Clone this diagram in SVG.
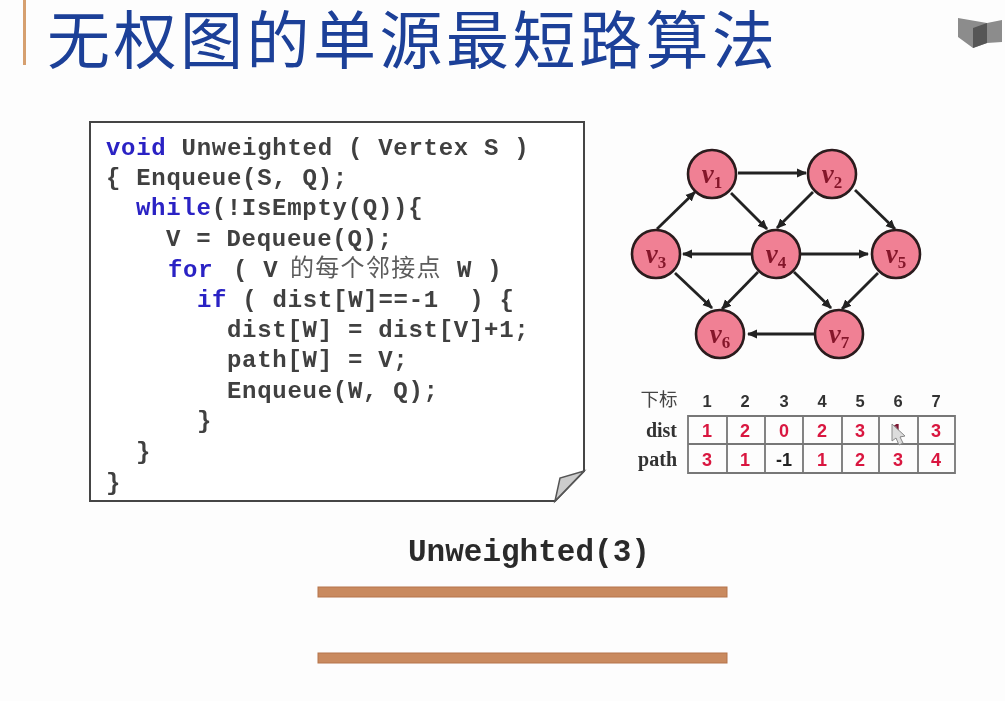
<svg xmlns="http://www.w3.org/2000/svg" width="1005" height="701" viewBox="0 0 1005 701">
<style>
.code{font-family:"Liberation Mono","Noto Sans CJK SC",monospace;font-weight:700;font-size:24px;letter-spacing:.72px;fill:#3f3f3f;white-space:pre}
.kw{fill:#2a22c4}
.cjk{font-family:"Noto Sans CJK SC",sans-serif;font-weight:400;font-size:24px;letter-spacing:1.3px;fill:#5c5c5c}
.title{font-family:"Noto Sans CJK SC",sans-serif;font-weight:400;font-size:63px;letter-spacing:3.5px;fill:#1c3f98}
.node{fill:#f08094;stroke:#2a1a1e;stroke-width:2.6}
.vl{font-family:"Liberation Serif",serif;font-style:italic;font-weight:700;font-size:27px;fill:#85182c;text-anchor:middle}
.vs{font-size:17px;font-style:normal}
.edge{fill:none;stroke:#222;stroke-width:2.8;marker-end:url(#arr)}
.cell{fill:#fdfdfd;stroke:#777;stroke-width:1.8}
.num{font-family:"Liberation Sans",sans-serif;font-weight:700;font-size:18px;text-anchor:middle;fill:#d9173f}
.hd{font-family:"Liberation Sans",sans-serif;font-weight:700;font-size:16.5px;text-anchor:middle;fill:#333}
.lab{font-family:"Liberation Serif",serif;font-weight:700;font-size:20px;text-anchor:end;fill:#333}
.rod{fill:#c98a5e;stroke:#b5754a;stroke-width:1}
</style>
<defs>
<marker id="arr" viewBox="0 0 10 10" refX="9" refY="5" markerWidth="3.6" markerHeight="3.6" orient="auto" markerUnits="strokeWidth"><path d="M0 0.5L10 5L0 9.5z" fill="#222"/></marker>
<filter id="soft" x="-5%" y="-5%" width="110%" height="110%"><feGaussianBlur stdDeviation="0.55"/></filter>
</defs>
<rect width="1005" height="701" fill="#fdfdfd"/>
<g id="header" filter="url(#soft)">
<rect x="23" y="0" width="3" height="65" fill="#d6a070"/>
<text class="title" x="47" y="63">无权图的单源最短路算法</text>
<path d="M958 18L987 23L1002 20V42L987 43L973 48L958 37z" fill="#8c8c8c"/>
<path d="M973 28L987 23V43L973 48z" fill="#565656"/>
</g>
<g id="code-page" filter="url(#soft)">
<path d="M90 122H584V471L555 501H90z" fill="#fff" stroke="#444" stroke-width="2"/>
<path d="M555 501L560 478L584 471z" fill="#ccc" stroke="#555" stroke-width="1.5"/>
<text class="code" x="106" y="155"><tspan class="kw">void</tspan> Unweighted ( Vertex S )</text>
<text class="code" x="106" y="185">{ Enqueue(S, Q);</text>
<text class="code" x="136" y="215"><tspan class="kw">while</tspan>(!IsEmpty(Q)){</text>
<text class="code" x="166" y="246">V = Dequeue(Q);</text>
<text class="code" x="168" y="277"><tspan class="kw">for</tspan></text>
<text class="code" x="233" y="277">( V</text>
<text class="cjk" x="290" y="276">的每个邻接点</text>
<text class="code" x="457" y="277">W )</text>
<text class="code" x="197" y="307"><tspan class="kw">if</tspan> ( dist[W]==-1  ) {</text>
<text class="code" x="227" y="337">dist[W] = dist[V]+1;</text>
<text class="code" x="227" y="367">path[W] = V;</text>
<text class="code" x="227" y="398">Enqueue(W, Q);</text>
<text class="code" x="197" y="428">}</text>
<text class="code" x="136" y="459">}</text>
<text class="code" x="106" y="490">}</text>
</g>
<g id="connectors" filter="url(#soft)">
<path class="edge" d="M738 173H806"/>
<path class="edge" d="M731 193L767 229"/>
<path class="edge" d="M813 192L777 228"/>
<path class="edge" d="M855 190L895 229"/>
<path class="edge" d="M657 229L695 192"/>
<path class="edge" d="M675 273L712 308"/>
<path class="edge" d="M752 254H683"/>
<path class="edge" d="M799 254H868"/>
<path class="edge" d="M758 272L722 309"/>
<path class="edge" d="M794 272L831 308"/>
<path class="edge" d="M878 273L842 309"/>
<path class="edge" d="M814 334H748"/>
</g>
<g id="v1" filter="url(#soft)"><circle class="node" cx="712" cy="174" r="24"/><text class="vl" x="712" y="183">v<tspan class="vs" dy="5">1</tspan></text></g>
<g id="v2" filter="url(#soft)"><circle class="node" cx="832" cy="174" r="24"/><text class="vl" x="832" y="183">v<tspan class="vs" dy="5">2</tspan></text></g>
<g id="v3" filter="url(#soft)"><circle class="node" cx="656" cy="254" r="24"/><text class="vl" x="656" y="263">v<tspan class="vs" dy="5">3</tspan></text></g>
<g id="v4" filter="url(#soft)"><circle class="node" cx="776" cy="254" r="24"/><text class="vl" x="776" y="263">v<tspan class="vs" dy="5">4</tspan></text></g>
<g id="v5" filter="url(#soft)"><circle class="node" cx="896" cy="254" r="24"/><text class="vl" x="896" y="263">v<tspan class="vs" dy="5">5</tspan></text></g>
<g id="v6" filter="url(#soft)"><circle class="node" cx="720" cy="334" r="24"/><text class="vl" x="720" y="343">v<tspan class="vs" dy="5">6</tspan></text></g>
<g id="v7" filter="url(#soft)"><circle class="node" cx="839" cy="334" r="24"/><text class="vl" x="839" y="343">v<tspan class="vs" dy="5">7</tspan></text></g>
<g id="table" filter="url(#soft)">
<text x="659" y="406" font-family="Noto Sans CJK SC, sans-serif" font-size="18.5" fill="#444" text-anchor="middle">下标</text>
<text class="lab" x="677" y="437">dist</text>
<text class="lab" x="677" y="466">path</text>
<text class="hd" x="707" y="407">1</text><text class="hd" x="745" y="407">2</text><text class="hd" x="784" y="407">3</text><text class="hd" x="822" y="407">4</text><text class="hd" x="860" y="407">5</text><text class="hd" x="898" y="407">6</text><text class="hd" x="936" y="407">7</text>
<path class="cell" d="M688 416H955V473H688z"/>
<path class="cell" d="M688 444H955M727 416V473M765 416V473M803 416V473M842 416V473M879 416V473M918 416V473" fill="none"/>
<text class="num" x="707" y="437">1</text><text class="num" x="745" y="437">2</text><text class="num" x="784" y="437">0</text><text class="num" x="822" y="437">2</text><text class="num" x="860" y="437">3</text><text class="num" x="897" y="437" style="fill:#7a1530">1</text><text class="num" x="936" y="437">3</text>
<text class="num" x="707" y="466">3</text><text class="num" x="745" y="466">1</text><text class="num" x="784" y="466" style="fill:#222">-1</text><text class="num" x="822" y="466">1</text><text class="num" x="860" y="466">2</text><text class="num" x="898" y="466">3</text><text class="num" x="936" y="466">4</text>
<path d="M892 424V441L896 438L899 445L903 443L900 437L905 436z" fill="#dcdcdc" stroke="#888" stroke-width="1"/>
</g>
<g id="caption" filter="url(#soft)">
<text x="408" y="561" font-family="Liberation Mono, monospace" font-weight="700" font-size="31" fill="#2a2a2a">Unweighted(3)</text>
<rect class="rod" x="318" y="587" width="409" height="10"/>
<rect class="rod" x="318" y="653" width="409" height="10"/>
</g>
</svg>
